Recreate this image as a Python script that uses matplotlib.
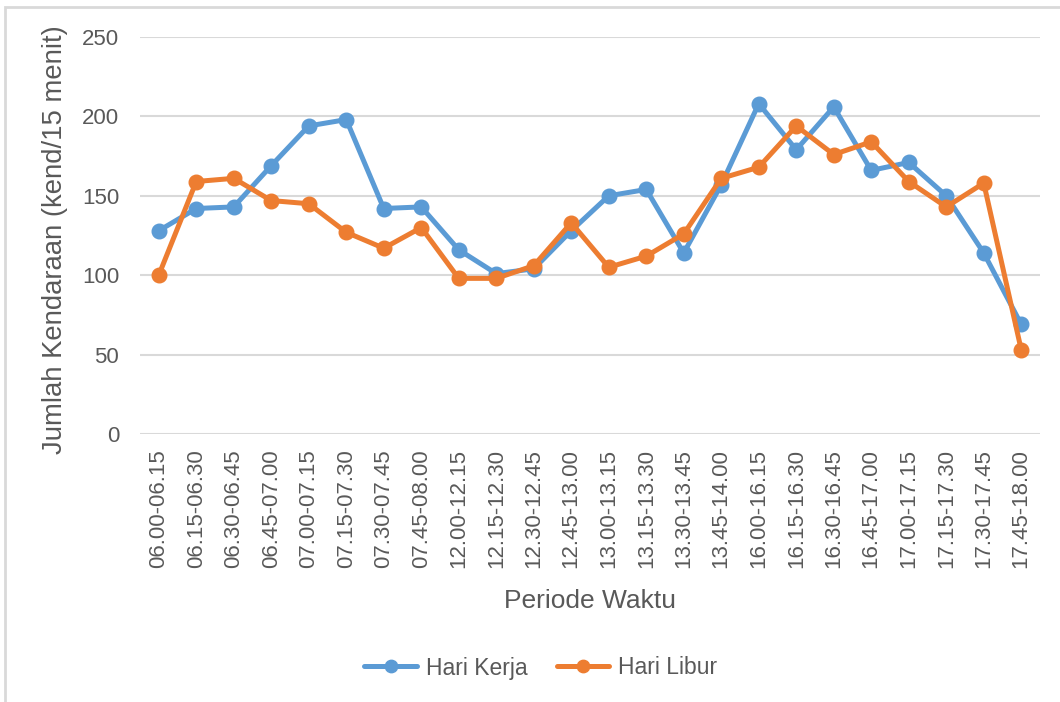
import numpy as np
import matplotlib.pyplot as plt
from matplotlib.patches import Rectangle

plt.rcParams['font.family'] = ['Liberation Sans', 'DejaVu Sans']

periode = ["06.00-06.15", "06.15-06.30", "06.30-06.45", "06.45-07.00",
           "07.00-07.15", "07.15-07.30", "07.30-07.45", "07.45-08.00",
           "12.00-12.15", "12.15-12.30", "12.30-12.45", "12.45-13.00",
           "13.00-13.15", "13.15-13.30", "13.30-13.45", "13.45-14.00",
           "16.00-16.15", "16.15-16.30", "16.30-16.45", "16.45-17.00",
           "17.00-17.15", "17.15-17.30", "17.30-17.45", "17.45-18.00"]
hari_kerja = [128, 142, 143, 169, 194, 198, 142, 143, 116, 101, 104, 128,
              150, 154, 114, 157, 208, 179, 206, 166, 171, 150, 114, 69]
hari_libur = [100, 159, 161, 147, 145, 127, 117, 130, 98, 98, 106, 133,
              105, 112, 126, 161, 168, 194, 176, 184, 159, 143, 158, 53]

teks = "#595959"
grid = "#D9D9D9"

fig = plt.figure(figsize=(10.6, 7.02), dpi=100)
ax = fig.add_axes([140/1060, 1-434/702, 900/1060, 397/702])

x = np.arange(len(periode))
ax.plot(x, hari_kerja, color="#5B9BD5", lw=3.6, marker="o", ms=10.5,
        label="Hari Kerja", solid_capstyle="round", zorder=3)
ax.plot(x, hari_libur, color="#ED7D31", lw=3.6, marker="o", ms=10.5,
        label="Hari Libur", solid_capstyle="round", zorder=4)

ax.set_xlim(-0.5, len(periode) - 0.5)
ax.set_ylim(0, 250)
ax.set_yticks(range(0, 251, 50))
ax.set_xticks(x)
ax.set_xticklabels(periode, rotation=90)
ax.tick_params(axis="both", length=0, labelsize=16, labelcolor=teks)
ax.tick_params(axis="y", pad=15)
ax.tick_params(axis="x", pad=11)
ax.yaxis.grid(True, color=grid, lw=1.5)
ax.set_axisbelow(True)
for s in ax.spines.values():
    s.set_visible(False)

fig.text(55/1060, 1-240/702, "Jumlah Kendaraan (kend/15 menit)", rotation=90,
         ha="center", va="center", fontsize=19.8, color=teks)
fig.text(590/1060, 1-601/702, "Periode Waktu", ha="center", va="center",
         fontsize=19, color=teks)

fig.legend(loc="center", bbox_to_anchor=(541/1060, 1-668/702), ncol=2,
           frameon=False, fontsize=16.5, labelcolor=teks, handlelength=2.3,
           handletextpad=0.4, columnspacing=1.25, markerscale=0.85)

# frame round the chart area
fig.patches.append(Rectangle((5/1060, -0.05), 1.1, 1.05 - 7/702,
                             transform=fig.transFigure, fill=False,
                             ec=grid, lw=2))

fig.savefig("out.png", dpi=100)
